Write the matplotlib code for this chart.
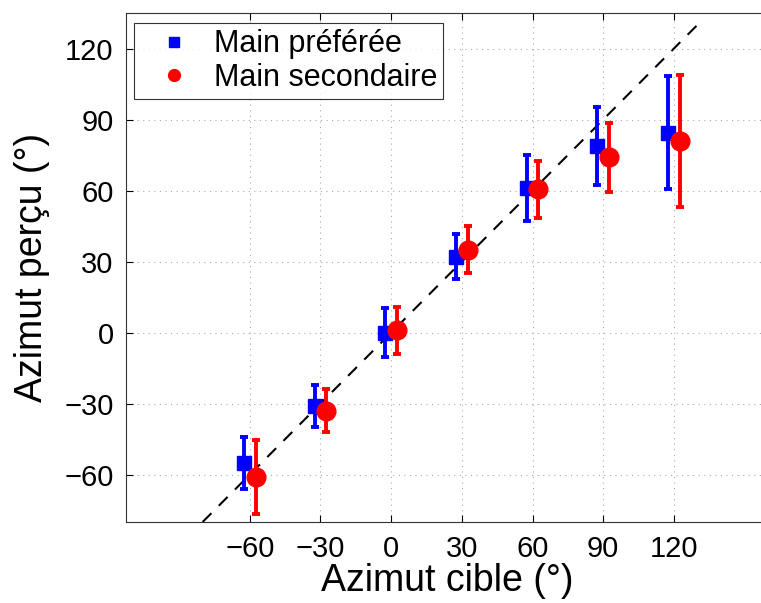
import matplotlib
matplotlib.use("Agg")
import matplotlib.pyplot as plt
from matplotlib.lines import Line2D

plt.rcParams['font.family'] = ['Liberation Sans', 'DejaVu Sans']

targets = [-60, -30, 0, 30, 60, 90, 120]
pref_mean = [-55, -31, 0, 32, 61, 79, 84.5]
pref_err = [11, 9, 10.5, 9.5, 14, 16.5, 24]
sec_mean = [-61, -33, 1, 35, 60.5, 74, 81]
sec_err = [15.5, 9, 10, 10, 12, 14.5, 28]
offset = 2.5
diag = [-80, 130]

fig = plt.figure(figsize=(7.61, 6.03), dpi=100)
ax = fig.add_axes([0.1656, 0.1343, 0.8438, 0.8441])

ax.plot(diag, diag, linestyle='--', color='black', linewidth=1.5, dashes=(6, 5), zorder=1)

ax.errorbar([t - offset for t in targets], pref_mean, yerr=pref_err, fmt='s', color='blue',
            markersize=10, elinewidth=2.8, capsize=3, capthick=2.8, zorder=3)
ax.errorbar([t + offset for t in targets], sec_mean, yerr=sec_err, fmt='o', color='red',
            markersize=13.5, elinewidth=2.8, capsize=3, capthick=2.8, zorder=4)

ax.set_xlim(-112.5, 160)
ax.set_ylim(-80, 135)
ax.set_xticks(targets)
ax.set_yticks([-60, -30, 0, 30, 60, 90, 120])
ax.set_xticklabels(['\u221260', '\u221230', '0', '30', '60', '90', '120'])
ax.set_yticklabels(['\u221260', '\u221230', '0', '30', '60', '90', '120'])
ax.tick_params(direction='in', labelsize=21, top=True, length=5, width=0.8, pad=9)
ax.grid(True, linestyle=(0, (1, 4)), color='#aaaaaa', linewidth=0.8)
ax.spines['right'].set_visible(False)
for s in ['left', 'bottom', 'top']:
    ax.spines[s].set_color('#333333')

ax.set_xlabel('Azimut cible (°)', fontsize=27, labelpad=0)
ax.set_ylabel('Azimut perçu (°)', fontsize=27, labelpad=10)

handles = [Line2D([], [], linestyle='none', marker='s', color='blue', markersize=6.5),
           Line2D([], [], linestyle='none', marker='o', color='red', markersize=8.5)]
leg = ax.legend(handles, ['Main préférée', 'Main secondaire'], loc='upper left', fontsize=22,
                frameon=True, fancybox=False, borderpad=0.2, handletextpad=0.2,
                labelspacing=0.12, bbox_to_anchor=(0.013, 0.98), handlelength=2.2,
                borderaxespad=0)
leg.get_frame().set_edgecolor('black')
leg.get_frame().set_linewidth(0.8)

fig.savefig('out.png', dpi=100)
